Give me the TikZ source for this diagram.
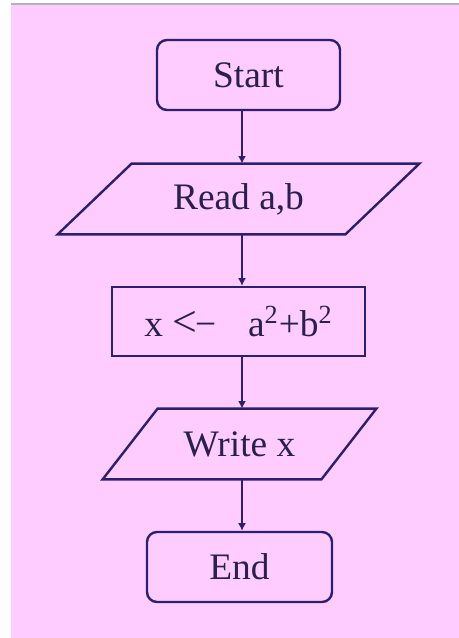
\documentclass[tikz,border=0pt]{standalone}
\usepackage{fontspec}
\setmainfont{Liberation Serif}
\usetikzlibrary{arrows.meta,calc,positioning}
\definecolor{pinkbg}{HTML}{FFCCFF}
\definecolor{navy}{HTML}{2B1F6E}
\definecolor{inkc}{HTML}{2A2050}
\tikzset{
  outline/.style={draw=navy, line width=1.2pt},
  flow/.style={-{Latex[length=3.8pt,width=4pt]}, draw=navy, line width=1.1pt},
  terminal/.style={outline, rounded corners=5pt, minimum width=#1, minimum height=35pt, inner sep=0pt},
  procbox/.style={outline, minimum width=#1, minimum height=34.5pt, inner sep=0pt},
  iotext/.style={minimum width=#1, minimum height=35pt, inner sep=0pt},
  txt/.style={font=\fontsize{18.7}{22}\selectfont, text=inkc}
}
\begin{document}
\begin{tikzpicture}[x=0.5pt,y=-0.5pt]
  \useasboundingbox (0,0) rectangle (459,638);
  \fill[white] (0,0) rectangle (459,638);
  \fill[pinkbg] (11,5) rectangle (459,638);
  \draw[gray!60, line width=0.6pt] (11,4) -- (459,4);
  \coordinate (mid) at (242,0);
  \node[terminal=91.5pt, txt] (start) at (248.5,75) {Start};
  \node[iotext=180.5pt, txt] (read) at (238.5,199) {Read a,b};
  \draw[outline] ([xshift=37pt]read.north west) -- (read.north east)
    -- ([xshift=-37pt]read.south east) -- (read.south west) -- cycle;
  \node[procbox=126.5pt, txt] (assign) at (238.5,321.5)
    {x {\fontsize{22}{22}\selectfont<}\kern-1pt−\hspace{0.85em}a\textsuperscript{2}+b\textsuperscript{2}};
  \node[iotext=136.5pt, txt] (write) at (239.5,444) {Write x};
  \draw[outline] ([xshift=27.5pt]write.north west) -- (write.north east)
    -- ([xshift=-27.5pt]write.south east) -- (write.south west) -- cycle;
  \node[terminal=92.5pt, txt] (end) at (239.5,567) {End};
  % connectors
  \draw[flow] (start.south -| mid) -- (read.north -| mid);
  \draw[flow] (read.south -| mid) -- (assign.north -| mid);
  \draw[flow] (assign.south -| mid) -- (write.north -| mid);
  \draw[flow] (write.south -| mid) -- (end.north -| mid);
\end{tikzpicture}
\end{document}
